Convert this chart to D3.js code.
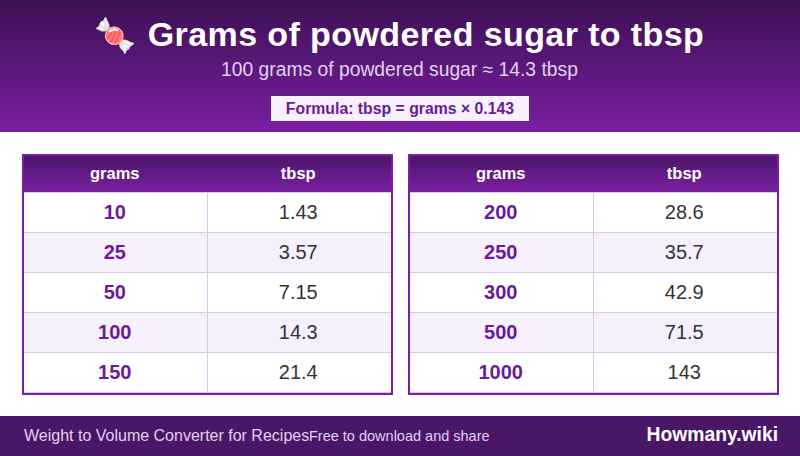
<!DOCTYPE html>
<html>
<head>
<meta charset="utf-8">
<script src="https://cdn.jsdelivr.net/npm/d3@7"></script>
<style>
html, body { margin: 0; padding: 0; background: #fff; }
svg { display: block; font-family: "Liberation Sans", Arial, sans-serif; }
</style>
</head>
<body>
<svg id="chart" width="800" height="456"></svg>
<script>
const columns = ["grams", "tbsp"];
const leftGrams = ["10", "25", "50", "100", "150"];
const leftTbsp = ["1.43", "3.57", "7.15", "14.3", "21.4"];
const rightGrams = ["200", "250", "300", "500", "1000"];
const rightTbsp = ["28.6", "35.7", "42.9", "71.5", "143"];

const svg = d3.select("#chart");
const defs = svg.append("defs");

function addGradient(id, top, bottom) {
  const g = defs.append("linearGradient").attr("id", id)
    .attr("x1", 0).attr("y1", 0).attr("x2", 0).attr("y2", 1);
  g.append("stop").attr("offset", "0%").attr("stop-color", top);
  g.append("stop").attr("offset", "100%").attr("stop-color", bottom);
}
addGradient("headGrad", "#3c1053", "#7b1fa2");
addGradient("thGrad", "#4a1668", "#7b1fa2");

// header band
svg.append("rect").attr("width", 800).attr("height", 132).attr("fill", "url(#headGrad)");
svg.append("text").attr("x", 115).attr("y", 47).attr("text-anchor", "middle")
  .attr("font-size", 34).text("🍬");
svg.append("text").attr("x", 426).attr("y", 46).attr("text-anchor", "middle")
  .attr("font-size", 34).attr("letter-spacing", 0.4).attr("font-weight", "bold").attr("fill", "#fff")
  .text("Grams of powdered sugar to tbsp");
svg.append("text").attr("x", 399.5).attr("y", 76).attr("text-anchor", "middle")
  .attr("font-size", 19.3).attr("fill", "#e0d2ee")
  .text("100 grams of powdered sugar ≈ 14.3 tbsp");
svg.append("rect").attr("x", 271).attr("y", 96).attr("width", 258).attr("height", 25).attr("fill", "#f5f0fb");
svg.append("text").attr("x", 400).attr("y", 113.5).attr("text-anchor", "middle")
  .attr("font-size", 15.8).attr("font-weight", "bold").attr("fill", "#6a1b9a")
  .text("Formula: tbsp = grams × 0.143");

function drawTable(x0, grams, tbsp) {
  const g = svg.append("g");
  const x = d3.scaleBand().domain(columns).range([x0 + 1, x0 + 368]);
  const y = d3.scaleBand().domain(grams).range([193, 393]);
  const divider = x0 + 185.5;

  g.append("rect").attr("x", x0 + 1).attr("y", 155).attr("width", 369).attr("height", 239)
    .attr("fill", "#fff").attr("stroke", "#7b1fa2").attr("stroke-width", 2);
  g.append("rect").attr("x", x0 + 2).attr("y", 156).attr("width", 367).attr("height", 36)
    .attr("fill", "url(#thGrad)");

  g.selectAll(".head").data(columns).join("text")
    .attr("x", d => x(d) + x.bandwidth() / 2).attr("y", 179)
    .attr("text-anchor", "middle").attr("font-size", 16.5).attr("font-weight", "bold")
    .attr("fill", "#fff").text(d => d);

  g.selectAll(".band").data(grams).join("rect")
    .attr("x", x0 + 2).attr("width", 367)
    .attr("y", d => y(d)).attr("height", y.bandwidth())
    .attr("fill", (d, i) => i % 2 ? "#f5f0fb" : "#fff");

  g.selectAll(".rule").data(grams).join("line")
    .attr("x1", x0 + 2).attr("x2", x0 + 369)
    .attr("y1", d => y(d) - 0.5).attr("y2", d => y(d) - 0.5)
    .attr("stroke", "#d8c5ea");
  g.append("line").attr("x1", x0 + 2).attr("x2", x0 + 369).attr("y1", 392.5).attr("y2", 392.5)
    .attr("stroke", "#d8c5ea");
  g.append("line").attr("x1", divider).attr("x2", divider).attr("y1", 192).attr("y2", 393)
    .attr("stroke", "#d8c5ea");

  g.selectAll(".gram").data(grams).join("text")
    .attr("x", x("grams") + x.bandwidth() / 2)
    .attr("y", d => y(d) + y.bandwidth() / 2 + 6)
    .attr("text-anchor", "middle").attr("font-size", 20).attr("font-weight", "bold")
    .attr("fill", "#6a1b9a").text(d => d);

  g.selectAll(".tbsp").data(tbsp).join("text")
    .attr("x", x("tbsp") + x.bandwidth() / 2)
    .attr("y", (d, i) => y(grams[i]) + y.bandwidth() / 2 + 6)
    .attr("text-anchor", "middle").attr("font-size", 20)
    .attr("fill", "#333").text(d => d);
}
drawTable(22, leftGrams, leftTbsp);
drawTable(408, rightGrams, rightTbsp);

// footer
svg.append("rect").attr("y", 416).attr("width", 800).attr("height", 40).attr("fill", "#4a1668");
svg.append("text").attr("x", 24).attr("y", 441).attr("font-size", 16).attr("fill", "#e0d2ee")
  .text("Weight to Volume Converter for Recipes");
svg.append("text").attr("x", 309).attr("y", 441).attr("font-size", 14.5).attr("fill", "#e0d2ee")
  .text("Free to download and share");
svg.append("text").attr("x", 778).attr("y", 441).attr("text-anchor", "end")
  .attr("font-size", 19.3).attr("font-weight", "bold").attr("fill", "#fff")
  .text("Howmany.wiki");
</script>
</body>
</html>
